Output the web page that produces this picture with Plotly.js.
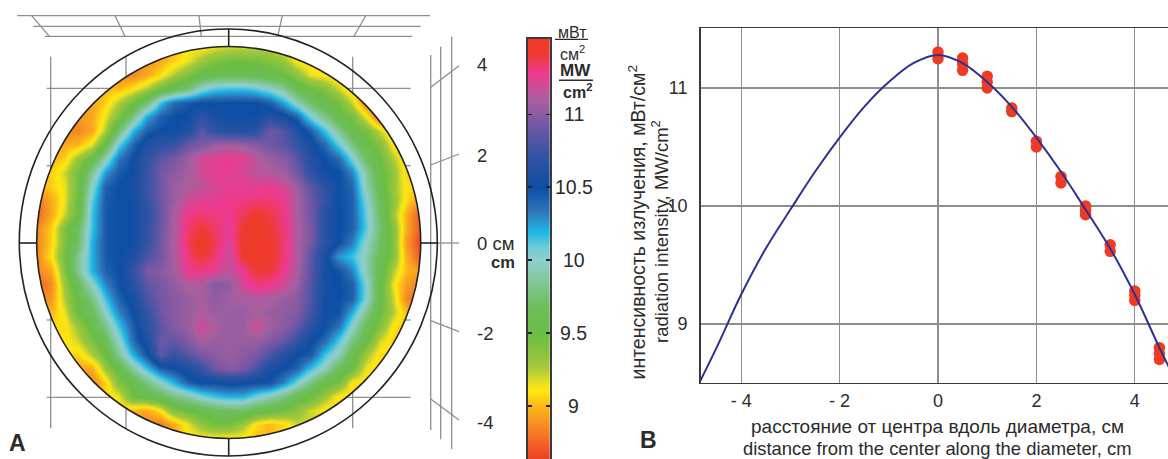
<!DOCTYPE html>
<html><head><meta charset="utf-8">
<script src="https://cdn.plot.ly/plotly-3.0.1.min.js"></script>
<style>html,body{margin:0;padding:0;background:#fff;overflow:hidden}#c{width:1168px;height:459px}</style>
</head><body><div id="c"></div>
<script>
// Panel A: radiation intensity, rows top to bottom, columns left to right
const mapRows = [
[9.1,9.1,9.1,9.1,9.1,9.1,9.1,9.1,9.0,8.95,9.0,9.1,9.1,9.15,9.2,9.2,9.2,9.2,9.1,9.05,9.1,9.1,9.1,9.1,9.1,9.1,9.1,9.1,9.1],
[8.9,8.9,8.9,8.9,8.9,8.9,8.9,8.9,8.9,8.95,9.05,9.15,9.3,9.4,9.45,9.45,9.45,9.4,9.3,9.1,9.05,9.05,9.05,9.05,9.05,9.05,9.05,9.05,9.05],
[8.85,8.85,8.85,8.85,8.85,8.85,8.85,8.85,8.95,9.08,9.25,9.4,9.55,9.6,9.62,9.62,9.6,9.55,9.5,9.35,9.15,9.1,9.05,9.05,9.05,9.05,9.05,9.05,9.05],
[9.0,9.0,9.0,9.0,9.0,9.0,9.0,9.1,9.25,9.45,9.6,9.75,10.0,10.12,10.15,10.15,10.1,10.0,9.85,9.6,9.5,9.4,9.2,9.0,8.9,8.9,8.9,8.9,8.9],
[8.95,8.95,8.95,8.95,8.95,9.05,9.25,9.45,9.75,10.15,10.38,10.45,10.5,10.5,10.5,10.5,10.5,10.42,10.22,9.95,9.7,9.55,9.45,9.2,8.85,8.75,8.75,8.75,8.75],
[8.9,8.9,8.9,8.9,8.95,9.15,9.4,9.8,10.22,10.42,10.5,10.52,10.7,10.55,10.5,10.5,10.52,10.65,10.55,10.4,10.05,9.8,9.55,9.45,9.15,8.75,8.75,8.75,8.75],
[8.85,8.85,8.85,8.85,8.95,9.25,9.75,10.18,10.42,10.5,10.52,10.6,10.85,10.68,10.65,10.62,10.68,10.9,10.82,10.62,10.42,10.15,9.85,9.55,9.45,9.2,9.0,9.0,9.0],
[8.95,8.95,8.95,9.0,9.15,9.55,10.1,10.4,10.62,10.68,10.72,10.9,10.95,11.05,11.08,11.05,10.98,10.92,10.85,10.72,10.55,10.38,10.1,9.8,9.55,9.4,9.1,9.05,9.05],
[9.0,9.0,9.05,9.3,9.55,9.95,10.35,10.5,10.72,10.85,10.95,11.05,11.22,11.25,11.28,11.25,11.15,11.05,10.98,10.85,10.62,10.5,10.38,10.05,9.7,9.5,9.25,9.05,9.05],
[9.0,9.05,9.2,9.45,9.85,10.25,10.45,10.52,10.72,10.92,11.0,11.08,11.2,11.25,11.25,11.22,11.15,11.12,11.08,10.92,10.7,10.52,10.5,10.3,9.9,9.55,9.35,9.05,9.0],
[8.95,9.05,9.15,9.45,10.0,10.42,10.5,10.55,10.75,10.92,11.05,11.12,11.15,11.22,11.25,11.25,11.25,11.27,11.22,11.05,10.85,10.68,10.5,10.4,9.95,9.6,9.3,9.1,9.05],
[8.8,8.95,9.15,9.5,10.1,10.45,10.5,10.52,10.72,10.9,11.05,11.2,11.24,11.26,11.28,11.3,11.32,11.32,11.28,11.1,10.9,10.72,10.5,10.42,10.05,9.65,9.35,9.08,8.9],
[8.75,8.95,9.2,9.5,10.15,10.45,10.5,10.52,10.68,10.88,11.1,11.3,11.32,11.3,11.28,11.36,11.45,11.38,11.3,11.1,10.92,10.65,10.5,10.42,10.1,9.7,9.3,8.95,8.7],
[8.85,9.05,9.4,9.7,10.15,10.45,10.5,10.52,10.7,10.9,11.1,11.33,11.42,11.34,11.25,11.42,11.5,11.42,11.32,11.12,10.95,10.65,10.5,10.42,10.12,9.75,9.4,8.95,8.7],
[8.85,9.05,9.4,9.7,10.2,10.45,10.5,10.52,10.72,10.92,11.12,11.35,11.5,11.36,11.22,11.45,11.52,11.45,11.32,11.12,10.92,10.68,10.5,10.32,10.0,9.7,9.4,8.9,8.65],
[8.85,9.1,9.45,9.85,10.2,10.45,10.5,10.6,10.8,10.92,11.1,11.32,11.42,11.32,11.18,11.42,11.5,11.45,11.32,11.12,10.85,10.55,10.25,10.15,9.95,9.65,9.4,8.95,8.7],
[8.85,8.95,9.4,9.85,10.2,10.42,10.5,10.7,10.95,10.98,11.08,11.27,11.3,11.25,11.15,11.28,11.42,11.4,11.28,11.1,10.85,10.55,10.48,10.3,9.95,9.6,9.25,9.0,8.9],
[8.75,8.85,9.3,9.65,10.0,10.3,10.48,10.65,10.85,10.95,11.02,11.12,11.12,10.98,11.02,11.22,11.3,11.28,11.2,11.05,10.82,10.55,10.5,10.42,10.05,9.55,9.15,8.9,8.85],
[8.85,8.9,9.25,9.55,9.8,10.15,10.42,10.55,10.8,10.92,11.0,11.05,11.1,11.02,11.08,11.1,11.12,11.1,11.05,11.0,10.82,10.52,10.5,10.42,10.05,9.55,9.2,8.85,8.8],
[9.0,9.0,9.15,9.5,9.65,10.0,10.3,10.5,10.72,10.9,11.0,11.05,11.12,11.05,11.05,11.05,11.1,11.05,11.02,10.98,10.78,10.5,10.48,10.2,9.85,9.5,9.25,9.0,9.0],
[9.08,9.08,9.08,9.3,9.55,9.8,10.15,10.42,10.68,10.85,10.98,11.05,11.2,11.1,11.05,11.05,11.2,11.08,11.0,10.88,10.68,10.5,10.35,10.0,9.65,9.4,9.1,9.0,9.0],
[9.1,9.1,9.1,9.2,9.42,9.65,10.0,10.38,10.6,10.9,10.88,10.98,11.1,11.05,11.05,11.05,11.05,10.98,10.88,10.72,10.52,10.38,10.12,9.8,9.55,9.2,9.05,9.05,9.05],
[9.1,9.1,9.1,9.05,9.25,9.5,9.85,10.2,10.48,10.88,10.72,10.85,10.95,11.0,11.05,11.0,10.95,10.8,10.65,10.5,10.45,10.15,9.95,9.6,9.3,9.08,9.05,9.05,9.05],
[8.95,8.95,8.95,8.95,8.95,9.3,9.55,9.9,10.15,10.42,10.5,10.6,10.72,10.92,11.0,10.95,10.8,10.58,10.5,10.4,10.15,9.95,9.65,9.5,9.15,9.05,9.05,9.05,9.05],
[8.85,8.85,8.85,8.85,8.85,9.05,9.4,9.55,9.8,10.0,10.2,10.42,10.5,10.5,10.55,10.52,10.5,10.48,10.3,10.05,9.8,9.55,9.45,9.1,9.08,9.08,9.08,9.08,9.08],
[9.05,9.05,9.05,9.05,9.05,9.05,9.15,9.5,9.55,9.65,9.8,9.9,10.05,10.15,10.2,10.2,10.05,9.95,9.8,9.6,9.5,9.3,9.1,9.08,9.08,9.08,9.08,9.08,9.08],
[9.1,9.1,9.1,9.1,9.1,9.1,9.1,9.0,8.95,9.1,9.4,9.5,9.55,9.65,9.7,9.7,9.6,9.55,9.45,9.35,9.2,9.1,9.1,9.1,9.1,9.1,9.1,9.1,9.1],
[8.85,8.85,8.85,8.85,8.85,8.85,8.85,8.85,8.85,8.8,8.95,9.15,9.35,9.45,9.45,9.3,9.08,9.0,9.08,9.2,9.2,9.2,9.2,9.2,9.2,9.2,9.2,9.2,9.2],
[9.1,9.1,9.1,9.1,9.1,9.1,9.1,9.1,9.0,8.9,9.0,9.1,9.1,9.1,9.1,9.1,9.0,9.0,9.1,9.1,9.1,9.1,9.1,9.1,9.1,9.1,9.1,9.1,9.1]
];
const mapAxisLabels = ['4','2','0 см','-2','-4'];

// Colour scale
const legendLevels = [8.5,8.64,8.72,8.86,9.0,9.11,9.16,9.27,9.5,9.68,9.84,10.0,10.09,10.19,10.34,10.5,10.75,10.91,11.1,11.28,11.42,11.55];
const legendColors = ['#ee3e24','#ee4024','#f15a25','#f58a24','#fbb81a','#fde910','#ecdf20','#a3c93b','#6abd45','#6dbe5c','#7fc590','#8fcfcb','#6fcad6','#1fb8e6','#2f75b9','#0d4fa3','#3a54a4','#6f57a5','#a8609f','#ee3a8f','#ee3b30','#ee3b24'];
const legendTicks = [9,9.5,10,10.5,11];
const legendTickText = ['9','9.5','10','10.5','11'];

// Panel B: fitted curve and measurements
const curveX = [-4.83,-4.5,-4,-3.5,-3,-2.5,-2,-1.5,-1,-0.5,0,0.5,1,1.5,2,2.5,3,3.5,4,4.5,4.83];
const curveY = [8.52,8.80,9.25,9.64,9.97,10.29,10.58,10.84,11.05,11.21,11.28,11.21,11.05,10.84,10.58,10.29,9.97,9.64,9.25,8.80,8.52];
const pointX = [0,0,0.5,0.5,0.5,1,1,1,1.5,1.5,2,2,2.5,2.5,3,3,3,3.5,3.5,4,4,4,4.5,4.5,4.5];
const pointY = [11.305,11.249,11.254,11.206,11.15,11.10,11.05,11.0,10.83,10.80,10.548,10.50,10.25,10.195,10.0,9.963,9.927,9.672,9.616,9.28,9.243,9.2,8.80,8.75,8.70];
const profileXTicks = [-4,-2,0,2,4];
const profileXText = ['- 4','- 2','0','2','4'];
const profileYTicks = [9,10,11];

const W = 1168, H = 459;
const px = x => x / W, py = y => 1 - y / H;
const FONT = '"Liberation Sans", Arial, sans-serif';
const INK = '#2b2b2b', GREY = '#8e8e8e';

const vMin = legendLevels[0], vMax = legendLevels[legendLevels.length - 1];
const colorscale = legendLevels.map((v, i) => [(v - vMin) / (vMax - vMin), legendColors[i]]);

// circle geometry in page pixels
const inner = {cx: 228.7, cy: 242.5, rx: 192, ry: 196};
const outer = {cx: 228.3, cy: 242.5, rx: 209, ry: 213.5};
const k = 0.5523;
function ringPath(c) {
  const X = v => px(v).toFixed(5), Y = v => py(v).toFixed(5);
  const {cx, cy, rx, ry} = c;
  return `M${X(cx - rx)},${Y(cy)} C${X(cx - rx)},${Y(cy - k * ry)} ${X(cx - k * rx)},${Y(cy - ry)} ${X(cx)},${Y(cy - ry)} ` +
    `C${X(cx + k * rx)},${Y(cy - ry)} ${X(cx + rx)},${Y(cy - k * ry)} ${X(cx + rx)},${Y(cy)} ` +
    `C${X(cx + rx)},${Y(cy + k * ry)} ${X(cx + k * rx)},${Y(cy + ry)} ${X(cx)},${Y(cy + ry)} ` +
    `C${X(cx - k * rx)},${Y(cy + ry)} ${X(cx - rx)},${Y(cy + k * ry)} ${X(cx - rx)},${Y(cy)} Z`;
}
const maskBox = {x0: 33, x1: 425, y0: 42, y1: 443};
const maskPath = `M${px(maskBox.x0)},${py(maskBox.y0)} L${px(maskBox.x1)},${py(maskBox.y0)} L${px(maskBox.x1)},${py(maskBox.y1)} L${px(maskBox.x0)},${py(maskBox.y1)} Z ` + ringPath(inner);

const seg = (x0, y0, x1, y1, color = GREY, width = 1.3) => ({
  type: 'line', xref: 'paper', yref: 'paper', x0: px(x0), y0: py(y0), x1: px(x1), y1: py(y1),
  line: {color, width}, layer: 'above'
});
const frame = [
  // perspective grid above the disc
  [17.3,15.7,430,15.7],[33.3,26.3,420.7,26.3],[45,36.3,412.3,36.3],
  [31.7,15.7,49.3,36.3],[115,15.7,125,36.3],[199,15.7,201.3,36.3],[282.3,15.7,277.7,36.3],[365.7,15.7,354,36.3],
  // verticals behind the disc
  [50.7,56.7,50.7,169.3],[50.7,316,50.7,428.3],
  [126,56.7,126,77.3],[126,408,126,428.3],
  [352.7,56.7,352.7,93.3],[352.7,392,352.7,428.3],
  // horizontals behind the disc
  [46.7,88.3,110.7,88.3],[346.7,88.3,410.7,88.3],
  [46.7,397.3,110.7,397.3],[346.7,397.3,410.7,397.3],
  [46.7,165.7,52,165.7],[405.3,165.7,410.7,165.7],
  [46.7,320,52,320],[405.3,320,410.7,320],
  // side grid on the right
  [430.7,55,430.7,430],[440.7,46.7,440.7,439.3],[451.7,36.7,451.7,449.3],
  [430.7,87.3,459,65.7],[430.7,165,459,154],[437.5,243,459,243],[430.7,320.7,459,331.7],[430.7,399,459,420]
].map(a => seg(...a));
const cross = [
  [19.3,243,36.7,243],[420.7,243,437.5,243],[228.7,29,228.7,46.7],[228.7,438.3,228.7,456]
].map(a => seg(...a, '#222', 1.6));
const ring = c => ({type: 'path', xref: 'paper', yref: 'paper', path: ringPath(c), line: {color: '#222', width: 1.6}, fillcolor: 'rgba(0,0,0,0)', layer: 'above'});

const shapes = [
  {type: 'path', xref: 'paper', yref: 'paper', path: maskPath, fillcolor: '#fff', line: {width: 0}, layer: 'above'},
  ...frame, ...cross, ring(outer), ring(inner),
  seg(555, 39.3, 588, 39.3, INK, 1.3), seg(559, 80.3, 593, 80.3, INK, 1.5)
];

const txt = (x, y, text, size = 18, opts = {}) => Object.assign({
  xref: 'paper', yref: 'paper', x: px(x), y: py(y), text, showarrow: false,
  font: {family: FONT, size, color: INK}, xanchor: 'center', yanchor: 'middle', borderpad: 0
}, opts);

const yPos = [64.5, 155, 243, 333, 422];
const annotations = [
  ...mapAxisLabels.map((t, i) => txt(476, yPos[i], t, 18.5, {xanchor: 'left'})),
  txt(516, 261.5, '<b>cm</b>', 16.5, {xanchor: 'right'}),
  ...legendTickText.map((t, i) => txt(573.5, [406, 333, 260, 187.3, 114.3][i], t, 19.5)),
  txt(572, 32, 'мВт', 16), txt(572, 53, 'см<sup>2</sup>', 16),
  txt(575, 71, '<b>MW</b>', 17), txt(577, 91.5, '<b>cm<sup>2</sup></b>', 16),
  txt(17, 443, '<b>A</b>', 23), txt(648.5, 440, '<b>B</b>', 23),
  txt(937, 426.5, 'расстояние от центра вдоль диаметра, см', 19),
  txt(937, 448, 'distance from the center along the diameter, cm', 18.4),
  txt(636.5, 222, 'интенсивность излучения, мВт/см<sup>2</sup>', 19.5, {textangle: -90}),
  txt(660, 232, 'radiation intensity, MW/cm<sup>2</sup>', 18.5, {textangle: -90})
];

const traces = [
  {type: 'heatmap', z: mapRows, xaxis: 'x', yaxis: 'y', zsmooth: 'best', colorscale, zmin: vMin, zmax: vMax, showscale: false, hoverinfo: 'skip'},
  {type: 'heatmap', x: [0, 1], y: legendLevels, z: legendLevels.map(v => [v, v]), xaxis: 'x2', yaxis: 'y2', zsmooth: 'best', colorscale, zmin: vMin, zmax: vMax, showscale: false, hoverinfo: 'skip'},
  {type: 'scatter', mode: 'markers', x: pointX, y: pointY, xaxis: 'x3', yaxis: 'y3', marker: {color: '#ee3b24', size: 11.5, line: {width: 0}}},
  {type: 'scatter', mode: 'lines', x: curveX, y: curveY, xaxis: 'x3', yaxis: 'y3', line: {color: '#2e3192', width: 2, shape: 'spline', smoothing: 1}}
];

const rows = mapRows.length - 1, cols = mapRows[0].length - 1;
const layout = {
  width: W, height: H, margin: {l: 0, r: 0, t: 0, b: 0}, paper_bgcolor: '#fff', plot_bgcolor: '#fff',
  showlegend: false, font: {family: FONT, color: INK}, shapes, annotations,
  xaxis: {anchor: 'y', domain: [px(inner.cx - inner.rx), px(inner.cx + inner.rx)], range: [0, cols], visible: false, fixedrange: true},
  yaxis: {anchor: 'x', domain: [py(inner.cy + inner.ry), py(inner.cy - inner.ry)], range: [rows, 0], visible: false, fixedrange: true},
  xaxis2: {anchor: 'y2', domain: [px(527.7), px(550)], range: [0, 1], showticklabels: false, ticks: '', showgrid: false, zeroline: false, showline: true, mirror: true, linecolor: '#3a3a3a', linewidth: 1.8, fixedrange: true},
  yaxis2: {anchor: 'x2', domain: [0, py(39)], range: [8.637, 11.516], tickvals: legendTicks, ticks: 'inside', ticklen: 4, tickwidth: 1.5, tickcolor: '#222', showticklabels: false, showgrid: false, zeroline: false, showline: true, mirror: 'ticks', linecolor: '#3a3a3a', linewidth: 1.8, fixedrange: true},
  xaxis3: {anchor: 'y3', domain: [px(700.7), 1], range: [-4.823, 4.675], tickvals: profileXTicks, ticktext: profileXText, ticks: '', tickfont: {family: FONT, size: 18, color: INK}, ticklabelstandoff: 1, showgrid: true, gridcolor: GREY, gridwidth: 1.3, zeroline: false, showline: true, mirror: true, linecolor: '#3a3a3a', linewidth: 1.6, fixedrange: true},
  yaxis3: {anchor: 'x3', domain: [py(382.7), py(28.3)], range: [8.503, 11.506], tickvals: profileYTicks, ticks: '', tickfont: {family: FONT, size: 18, color: INK}, ticklabelstandoff: 8, showgrid: true, gridcolor: GREY, gridwidth: 1.3, zeroline: false, showline: true, linecolor: '#3a3a3a', linewidth: 1.6, fixedrange: true}
};
Plotly.newPlot('c', traces, layout, {displayModeBar: false, staticPlot: true});
</script></body></html>
